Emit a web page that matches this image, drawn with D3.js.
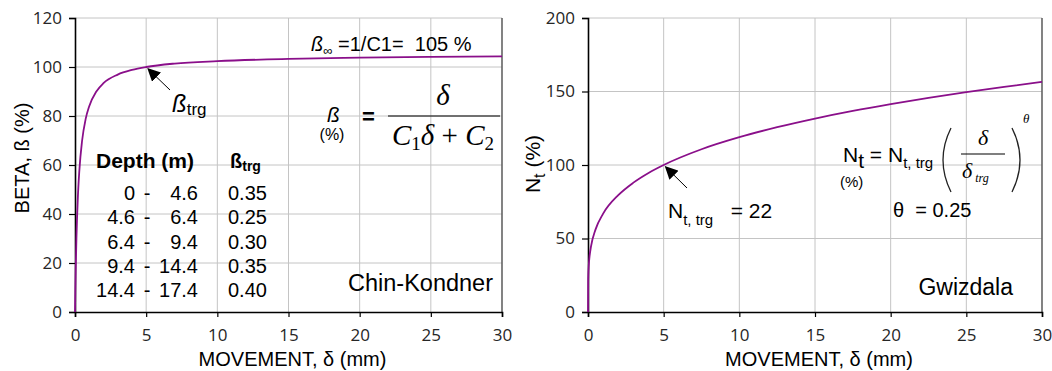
<!DOCTYPE html>
<html>
<head>
<meta charset="utf-8">
<script src="https://cdn.jsdelivr.net/npm/d3@7"></script>
<style>
body { margin: 0; background: #fff; }
svg { display: block; }
text { font-family: "Liberation Sans", Arial, sans-serif; fill: #000; }
.tick text { font-family: "Open Sans", "Noto Sans", sans-serif; fill: #262626; }
</style>
</head>
<body>
<div id="chart"></div>
<script>
// values
var chinDelta = [0, 0.01, 0.02, 0.05, 0.1, 0.2, 0.3, 0.5, 0.75, 1, 1.5, 2, 3, 4, 5, 7, 10, 15, 20, 25, 30];
var chinBeta  = [0, 4, 8, 17.5, 30, 46.7, 57.3, 70, 78.8, 84, 90, 93.4, 96.9, 98.8, 100, 101.4, 102.4, 103.3, 103.8, 104.1, 104.3];

var gwizDelta = [0, 0.01, 0.02, 0.05, 0.1, 0.2, 0.5, 1, 2, 3, 4, 5, 7.5, 10, 12.5, 15, 17.5, 20, 22.5, 25, 27.5, 30];
var gwizNt    = [0, 21, 25.1, 31.6, 37.6, 44.7, 56.2, 66.9, 79.5, 88, 94.6, 100, 110.7, 118.9, 125.7, 131.6, 136.8, 141.4, 145.6, 149.5, 153.1, 156.5];

var xTicks    = [0, 5, 10, 15, 20, 25, 30];
var betaTicks = [0, 20, 40, 60, 80, 100, 120];
var ntTicks   = [0, 50, 100, 150, 200];

var depthFrom = ["0", "4.6", "6.4", "9.4", "14.4"];
var depthTo   = ["4.6", "6.4", "9.4", "14.4", "17.4"];
var betaTrg   = ["0.35", "0.25", "0.30", "0.35", "0.40"];

var W = 1052, H = 371;
var purple = "#8a0f8a";
var serif = "'Liberation Serif', 'Times New Roman', serif";

var svg = d3.select("#chart").append("svg")
    .attr("width", W)
    .attr("height", H);

svg.append("rect").attr("width", W).attr("height", H).attr("fill", "#fff");

function panel(opt) {
    var x = d3.scaleLinear().domain([0, 30]).range([opt.left, opt.right]);
    var y = d3.scaleLinear().domain([0, opt.ymax]).range([opt.bottom, opt.top]);
    var g = svg.append("g");

    // grid
    g.selectAll("line.vg").data(xTicks.slice(1)).enter().append("line")
        .attr("x1", d => x(d)).attr("x2", d => x(d))
        .attr("y1", opt.top).attr("y2", opt.bottom)
        .attr("stroke", "#c4c4c4").attr("stroke-width", 1);
    g.selectAll("line.hg").data(opt.yticks.slice(1)).enter().append("line")
        .attr("x1", opt.left).attr("x2", opt.right)
        .attr("y1", d => y(d)).attr("y2", d => y(d))
        .attr("stroke", "#c4c4c4").attr("stroke-width", 1);

    // right border
    g.append("line")
        .attr("x1", opt.right).attr("x2", opt.right)
        .attr("y1", opt.top).attr("y2", opt.bottom)
        .attr("stroke", "#444").attr("stroke-width", 1.2);

    var xAxis = g.append("g")
        .attr("transform", "translate(0," + opt.bottom + ")")
        .call(d3.axisBottom(x).tickValues(xTicks).tickSize(5).tickPadding(12));
    var yAxis = g.append("g")
        .attr("transform", "translate(" + opt.left + ",0)")
        .call(d3.axisLeft(y).tickValues(opt.yticks).tickSize(6).tickPadding(7));
    [xAxis, yAxis].forEach(function (a) {
        a.select(".domain").attr("stroke", "#000").attr("stroke-width", 1.6);
        a.selectAll(".tick line").attr("stroke", "#000").attr("stroke-width", 1.2);
        a.selectAll(".tick text").style("font-size", "17px");
    });

    var line = d3.line()
        .x(d => x(d[0]))
        .y(d => y(d[1]))
        .curve(d3.curveMonotoneX);
    g.append("path")
        .datum(opt.xs.map((d, i) => [d, opt.ys[i]]))
        .attr("d", line)
        .attr("fill", "none")
        .attr("stroke", purple)
        .attr("stroke-width", 1.8);

    g.append("text")
        .attr("x", (opt.left + opt.right) / 2 + 4)
        .attr("y", 366)
        .attr("text-anchor", "middle")
        .style("font-size", "20px")
        .text("MOVEMENT, δ (mm)");

    return {g: g, x: x, y: y};
}

var defs = svg.append("defs");
defs.append("marker")
    .attr("id", "arrow")
    .attr("viewBox", "0 0 10 10")
    .attr("refX", 9).attr("refY", 5)
    .attr("markerWidth", 13).attr("markerHeight", 13)
    .attr("markerUnits", "userSpaceOnUse")
    .attr("orient", "auto")
    .append("path").attr("d", "M0,0 L10,5 L0,10 Z").attr("fill", "#000");

// ---------- left: Chin-Kondner ----------
var L = panel({left: 75, right: 502, top: 18, bottom: 312, ymax: 120,
    yticks: betaTicks, xs: chinDelta, ys: chinBeta});

L.g.append("text")
    .attr("transform", "translate(29,158) rotate(-90)")
    .attr("text-anchor", "middle")
    .style("font-size", "20px")
    .text("BETA, ß (%)");

var binf = L.g.append("text").attr("x", 311).attr("y", 51).style("font-size", "20px");
binf.append("tspan").style("font-style", "italic").text("ß");
binf.append("tspan").attr("dy", 4).style("font-size", "13px").text("∞");
binf.append("tspan").attr("dy", -4).attr("xml:space", "preserve").text(" =1/C1=  105 %");

L.g.append("line")
    .attr("x1", 170).attr("y1", 90)
    .attr("x2", L.x(5) + 2).attr("y2", L.y(100) + 2)
    .attr("stroke", "#000").attr("stroke-width", 1)
    .attr("marker-end", "url(#arrow)");

var bt = L.g.append("text").attr("x", 172).attr("y", 112).style("font-size", "24px");
bt.append("tspan").style("font-style", "italic").text("ß");
bt.append("tspan").attr("dy", 3).style("font-size", "17px").text("trg");

// formula
L.g.append("text").attr("x", 327).attr("y", 122)
    .style("font-size", "21px").style("font-style", "italic").text("ß");
L.g.append("text").attr("x", 332).attr("y", 140).attr("text-anchor", "middle")
    .style("font-size", "16px").text("(%)");
L.g.append("text").attr("x", 362).attr("y", 124)
    .style("font-size", "22px").style("font-weight", "bold").text("=");
L.g.append("line").attr("x1", 388).attr("x2", 500).attr("y1", 116).attr("y2", 116)
    .attr("stroke", "#000").attr("stroke-width", 1.2);
L.g.append("text").attr("x", 443).attr("y", 105).attr("text-anchor", "middle")
    .style("font-family", serif)
    .style("font-style", "italic").style("font-size", "29px").text("δ");
var den = L.g.append("text").attr("x", 443).attr("y", 145).attr("text-anchor", "middle")
    .style("font-family", serif)
    .style("font-style", "italic").style("font-size", "29px");
den.append("tspan").text("C");
den.append("tspan").attr("dy", 5).style("font-size", "19px").style("font-style", "normal").text("1");
den.append("tspan").attr("dy", -5).text("δ");
den.append("tspan").style("font-style", "normal").attr("xml:space", "preserve").text(" + ");
den.append("tspan").text("C");
den.append("tspan").attr("dy", 5).style("font-size", "19px").style("font-style", "normal").text("2");

// depth table
L.g.append("text").attr("x", 96).attr("y", 168)
    .style("font-size", "21px").style("font-weight", "bold").text("Depth (m)");
var bh = L.g.append("text").attr("x", 230).attr("y", 168)
    .style("font-size", "20px").style("font-weight", "bold");
bh.append("tspan").text("ß");
bh.append("tspan").attr("dy", 3).style("font-size", "14px").text("trg");

var rowY = d3.scaleLinear().domain([0, 4]).range([200, 297]);
var rows = L.g.selectAll("g.row").data(depthFrom).enter().append("g")
    .attr("transform", (d, i) => "translate(0," + rowY(i) + ")")
    .style("font-size", "20px");
rows.append("text").attr("x", 135).attr("text-anchor", "end").text(d => d);
rows.append("text").attr("x", 147).attr("text-anchor", "middle").text("-");
rows.append("text").attr("x", 198).attr("text-anchor", "end").text((d, i) => depthTo[i]);
rows.append("text").attr("x", 228).text((d, i) => betaTrg[i]);

L.g.append("text").attr("x", 493).attr("y", 291).attr("text-anchor", "end")
    .style("font-size", "23.5px").text("Chin-Kondner");

// ---------- right: Gwizdala ----------
var R = panel({left: 588, right: 1042, top: 18, bottom: 312, ymax: 200,
    yticks: ntTicks, xs: gwizDelta, ys: gwizNt});

var yl = R.g.append("text")
    .attr("transform", "translate(540,164) rotate(-90)")
    .attr("text-anchor", "middle")
    .style("font-size", "21px");
yl.append("tspan").text("N");
yl.append("tspan").attr("dy", 5).style("font-size", "16px").text("t");
yl.append("tspan").attr("dy", -5).attr("xml:space", "preserve").text(" (%)");

R.g.append("line")
    .attr("x1", 687).attr("y1", 188)
    .attr("x2", R.x(5) + 2).attr("y2", R.y(100) + 2)
    .attr("stroke", "#000").attr("stroke-width", 1)
    .attr("marker-end", "url(#arrow)");

var nl = R.g.append("text").attr("x", 668).attr("y", 218).style("font-size", "21px");
nl.append("tspan").text("N");
nl.append("tspan").attr("dy", 7).style("font-size", "15px").text("t, trg");
nl.append("tspan").attr("dy", -7).attr("xml:space", "preserve").text("   = 22");

var nf = R.g.append("text").attr("x", 843).attr("y", 162).style("font-size", "21px");
nf.append("tspan").text("N");
nf.append("tspan").attr("dy", 6).text("t");
nf.append("tspan").attr("dy", -6).attr("xml:space", "preserve").text(" = N");
nf.append("tspan").attr("dy", 6).style("font-size", "15px").text("t, trg");
R.g.append("text").attr("x", 840).attr("y", 187).style("font-size", "15px").text("(%)");

// brackets
var brack = d3.path();
brack.moveTo(951, 128); brack.quadraticCurveTo(935, 160, 951, 192);
brack.moveTo(1012, 128); brack.quadraticCurveTo(1028, 160, 1012, 192);
R.g.append("path").attr("d", brack.toString()).attr("fill", "none")
    .attr("stroke", "#222").attr("stroke-width", 1.3);
R.g.append("line").attr("x1", 961).attr("x2", 1005).attr("y1", 154).attr("y2", 154)
    .attr("stroke", "#000").attr("stroke-width", 1.2);
R.g.append("text").attr("x", 983).attr("y", 145).attr("text-anchor", "middle")
    .style("font-family", serif).style("font-style", "italic").style("font-size", "22px").text("δ");
var dd = R.g.append("text").attr("x", 962).attr("y", 178)
    .style("font-family", serif).style("font-style", "italic").style("font-size", "22px");
dd.append("tspan").text("δ");
dd.append("tspan").attr("dx", 3).attr("dy", 4).style("font-size", "12px").text("trg");
R.g.append("text").attr("x", 1023).attr("y", 123)
    .style("font-family", serif).style("font-style", "italic").style("font-size", "13px").text("θ");

R.g.append("text").attr("x", 893).attr("y", 217).attr("xml:space", "preserve")
    .style("font-size", "20px").text("θ  = 0.25");

R.g.append("text").attr("x", 1013).attr("y", 295).attr("text-anchor", "end")
    .style("font-size", "23px").text("Gwizdala");
</script>
</body>
</html>
